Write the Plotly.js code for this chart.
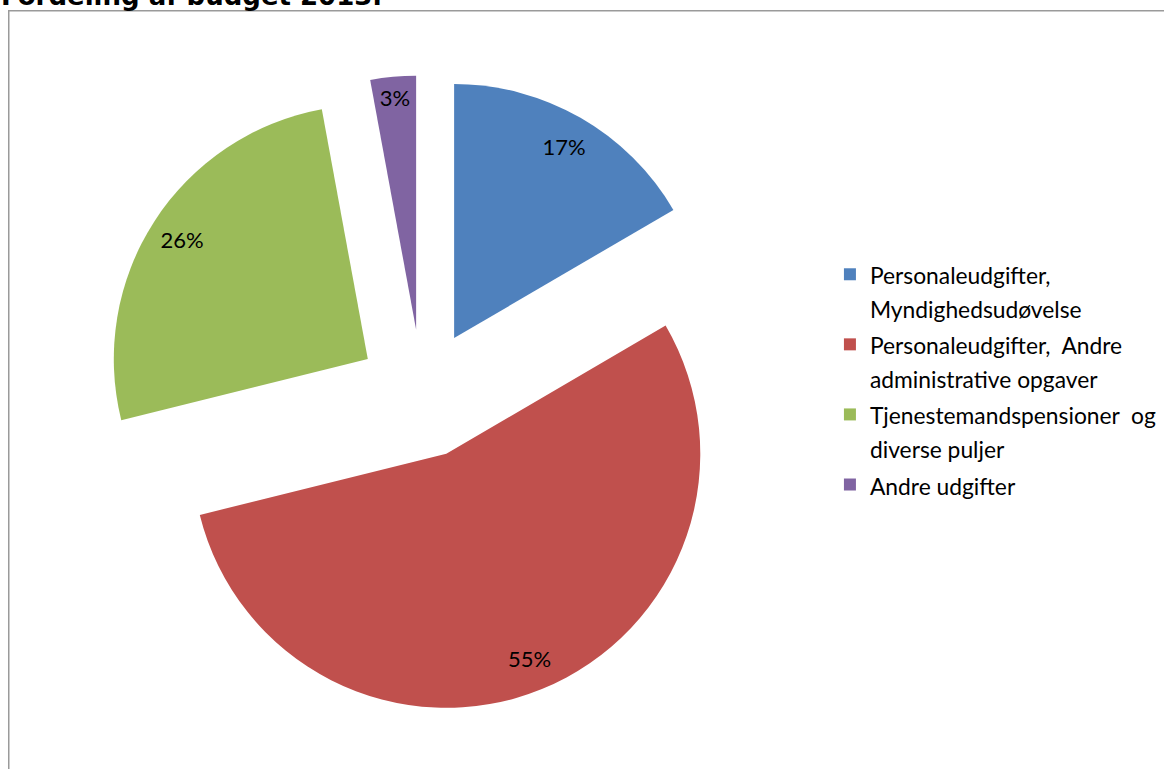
<!DOCTYPE html>
<html>
<head>
<meta charset="utf-8">
<script src="https://cdn.plot.ly/plotly-3.0.1.min.js"></script>
<style>
  html, body { margin: 0; padding: 0; background: #ffffff; }
  #chart { width: 1164px; height: 769px; }
</style>
</head>
<body>
<div id="chart"></div>
<script>
// ---- data ----
var chartTitle = "Fordeling af budget 2013.";
var categoryLines = [
  ["Personaleudgifter,", "Myndighedsudøvelse"],
  ["Personaleudgifter,  Andre", "administrative opgaver"],
  ["Tjenestemandspensioner  og", "diverse puljer"],
  ["Andre udgifter"]
];
var shares = [16.6, 54.6, 26.0, 2.9];
var sliceColors = ["#4F81BD", "#C0504D", "#9BBB59", "#8064A2"];

// legend labels (visible text size, wider line pitch from legend font)
var labels = categoryLines.map(function (lines) {
  return lines.map(function (l) {
    return '<span style="font-size:22.8px">' + l + '</span>';
  }).join('<br>');
});

var pieDomain = { x: [0.0889, 0.6362], y: [0.07347, 0.90182] };
var pulls = [0.254, 0.254, 0.254, 0.254];

// filled slices
var slices = {
  type: 'pie',
  labels: labels,
  values: shares,
  sort: false,
  direction: 'clockwise',
  rotation: 0,
  pull: pulls,
  marker: { colors: sliceColors, line: { width: 0 } },
  textinfo: 'none',
  hoverinfo: 'label+percent',
  domain: pieDomain,
  showlegend: true
};

// transparent ring carrying the percentage labels near the rim
var percentLabels = {
  type: 'pie',
  labels: labels,
  values: shares,
  sort: false,
  direction: 'clockwise',
  rotation: 0,
  pull: pulls,
  hole: 0.74,
  marker: { colors: ['rgba(0,0,0,0)', 'rgba(0,0,0,0)', 'rgba(0,0,0,0)', 'rgba(0,0,0,0)'], line: { width: 0 } },
  texttemplate: '%{percent:.0%}',
  textposition: 'inside',
  insidetextorientation: 'horizontal',
  textfont: { family: 'Lato, sans-serif', size: 22, color: '#000000' },
  hoverinfo: 'skip',
  domain: pieDomain,
  showlegend: false
};

var layout = {
  width: 1164,
  height: 769,
  margin: { l: 0, r: 0, t: 0, b: 0 },
  paper_bgcolor: '#ffffff',
  plot_bgcolor: '#ffffff',
  font: { family: 'Lato, sans-serif', color: '#000000' },
  showlegend: true,
  legend: {
    x: 0.713, xanchor: 'left',
    y: 1 - 251 / 769, yanchor: 'top',
    valign: 'top',
    font: { family: 'Lato, sans-serif', size: 25.8, color: '#000000' },
    bgcolor: 'rgba(0,0,0,0)',
    borderwidth: 0
  },
  shapes: [{
    type: 'rect', xref: 'paper', yref: 'paper', layer: 'below',
    x0: 8.75 / 1164, x1: 1.02, y0: -0.02, y1: 1 - 10.75 / 769,
    line: { color: '#9a9a9a', width: 1.5 },
    fillcolor: 'rgba(0,0,0,0)'
  }],
  annotations: [{
    xref: 'paper', yref: 'paper',
    x: -1 / 1164, xanchor: 'left',
    y: 1 - 13 / 769, yanchor: 'bottom',
    showarrow: false,
    text: chartTitle,
    font: { family: 'DejaVu Sans', size: 26, weight: 'bold', color: '#000000' }
  }]
};

Plotly.newPlot('chart', [slices, percentLabels], layout, { displayModeBar: false, staticPlot: true });
</script>
</body>
</html>
